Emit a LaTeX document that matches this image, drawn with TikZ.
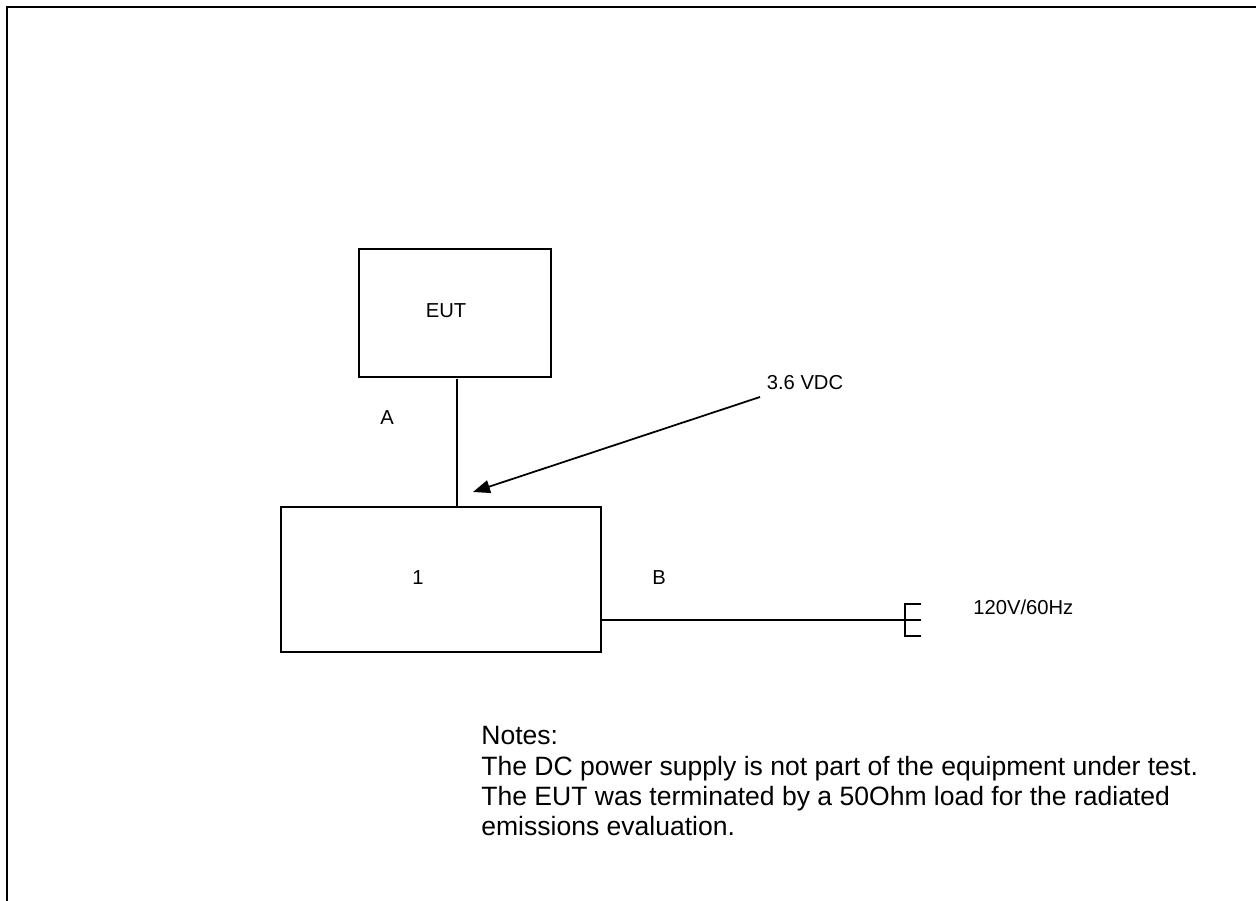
\documentclass[tikz,border=0pt]{standalone}
\usepackage{fontspec}
\setmainfont{Liberation Sans}
\usetikzlibrary{arrows.meta,positioning,calc}

\begin{document}
\begin{tikzpicture}[
    x=0.02cm, y=-0.02cm,
    box/.style={rectangle, draw, line width=1.1pt, inner sep=0pt},
    wire/.style={line width=1pt},
    arr/.style={-{Triangle[length=0.34cm, width=0.26cm]}, line width=1pt},
    lbl/.style={font=\fontsize{11.5}{14}\selectfont, inner sep=0pt},
    note/.style={font=\fontsize{15.1}{17.3}\selectfont, inner sep=0pt, align=left}
]
\useasboundingbox (0,0) rectangle (1256,901);

% frame
\draw[line width=1.4pt] (7,901) -- (7,7) -- (1256,7);

\node[box, minimum width=3.84cm, minimum height=2.56cm] (eut) at (455,313) {};
\node[lbl] (eutlbl) at (446,311) {EUT};
\node[box, minimum width=6.4cm, minimum height=2.9cm] (unit) at (441,579.5) {};
\node[lbl] (unitlbl) at (418,578) {1};

% cable A
\coordinate (ca) at (457,379);
\draw[wire] (ca) -- (ca |- unit.north);
\node[lbl] (lblA) at (387,418) {A};

% DC supply
\node[lbl] (vdc) at (805,383) {3.6 VDC};
\coordinate (vdcend) at (760,397);
\coordinate (vdctip) at (473,492);
\draw[arr] (vdcend) -- (vdctip);

% cable B and mains plug
\coordinate (plug) at (905,620);
\draw[wire] (plug -| unit.east) -- (plug);
\draw[wire] (921,604) -- (905,604) -- (905,636) -- (921,636);
\draw[wire] (plug) -- ++(16,0);
\node[lbl] (lblB) at (659,578) {B};
\node[lbl, anchor=west] (mains) at (973,607) {120V/60Hz};

% Notes
\node[note, anchor=north west] (notes) at (481,726) {Notes:\\The DC power supply is not part of the equipment under test.\\The EUT was terminated by a 50Ohm load for the radiated\\emissions evaluation.};

\end{tikzpicture}
\end{document}
